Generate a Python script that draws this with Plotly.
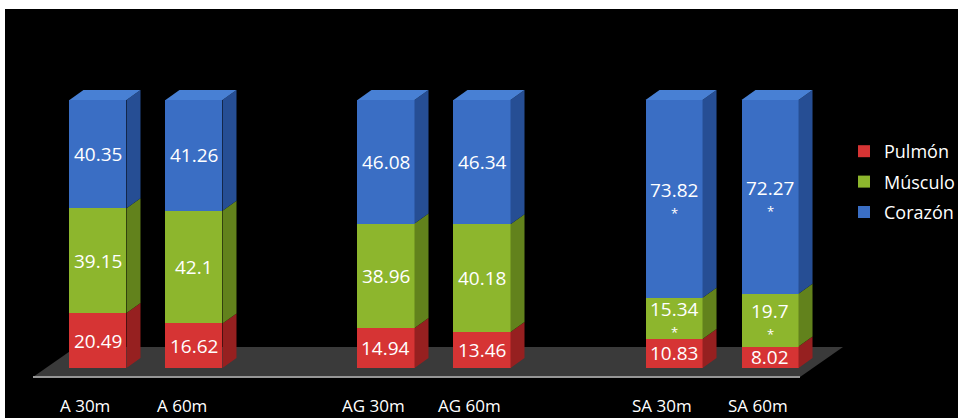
import plotly.graph_objects as go

categories = ["A 30m", "A 60m", "AG 30m", "AG 60m", "SA 30m", "SA 60m"]
pulmon = [20.49, 16.62, 14.94, 13.46, 10.83, 8.02]
musculo = [39.15, 42.1, 38.96, 40.18, 15.34, 19.7]
corazon = [40.35, 41.26, 46.08, 46.34, 73.82, 72.27]
marks = ["", "", "", "", "*", "*"]

# category slots: an empty slot between each pair of groups
xpos = [i + i // 2 for i in range(len(categories))]

W, H = 958, 418
ML, MR, MT, MB = 30, 113, 88, 38
XR = [-0.708, 7.781]
YR = [-4.48, 104.48]
plot_w = W - ML - MR
plot_h = H - MT - MB
px_x = (XR[1] - XR[0]) / plot_w
px_y = (YR[1] - YR[0]) / plot_h

bar_w = 0.594
half = bar_w / 2
dx = 14 * px_x
dy = 10 * px_y

front = {"Pulmón": "rgb(214,52,52)", "Músculo": "rgb(141,182,45)", "Corazón": "rgb(58,110,196)"}
side = {"Pulmón": "rgb(150,32,32)", "Músculo": "rgb(98,130,28)", "Corazón": "rgb(38,78,148)"}
top = {"Corazón": "rgb(72,128,212)"}

series = [("Pulmón", pulmon, ["" for _ in pulmon]),
          ("Músculo", musculo, marks),
          ("Corazón", corazon, marks)]

lab_font = dict(color="white", size=19, family="Open Sans")
star_font = dict(color="white", size=13, family="Open Sans")


def pfx(p):
    return (p - ML) / plot_w


def pfy(p):
    return (H - MB - p) / plot_h


fig = go.Figure()
annotations = []
bases = [0.0] * len(xpos)
for name, vals, mk in series:
    fig.add_trace(go.Bar(
        name=name, x=xpos, y=vals, width=bar_w,
        marker=dict(color=front[name], line=dict(width=0)),
        legendgroup=name, hoverinfo="skip",
    ))
    for i, (x, v, m) in enumerate(zip(xpos, vals, mk)):
        mid = bases[i] + v / 2
        annotations.append(dict(x=x, y=mid, xref="x", yref="y", text=f"{v:g}", showarrow=False,
                                font=lab_font, yshift=9 if m else 0, borderpad=0))
        if m:
            annotations.append(dict(x=x, y=mid, xref="x", yref="y", text=m, showarrow=False,
                                    font=star_font, yshift=-14, borderpad=0))
        bases[i] += v

# category labels under the floor
for x, c in zip(xpos, categories):
    annotations.append(dict(x=x - 0.13, y=pfy(405), xref="x", yref="paper", text=c, showarrow=False,
                            font=dict(color="white", size=17, family="Open Sans"), yanchor="middle",
                            borderpad=0))

shapes = []
# black canvas inside a thin white frame (top and left)
shapes.append(dict(type="rect", xref="paper", yref="paper", x0=pfx(5), x1=pfx(W + 5), y0=pfy(H + 5), y1=pfy(9),
                   fillcolor="black", line=dict(width=0), layer="below"))

# floor
fx0, fx1 = XR[0] + 3 * px_x, XR[0] + 770 * px_x
fy0 = YR[0] + 3 * px_y
fdx, fdy = 43 * px_x, 30 * px_y
shapes.append(dict(type="path", xref="x", yref="y", layer="below",
                   path=f"M{fx0},{fy0} L{fx1},{fy0} L{fx1+fdx},{fy0+fdy} L{fx0+fdx},{fy0+fdy} Z",
                   fillcolor="rgb(58,58,58)", line=dict(width=0)))
shapes.append(dict(type="line", xref="x", yref="y", layer="below",
                   x0=fx0, x1=fx1, y0=fy0, y1=fy0, line=dict(color="rgb(150,150,150)", width=2)))

# 3D side and top faces
for i, x in enumerate(xpos):
    base = 0.0
    for name, vals, _ in series:
        lo, hi = base, base + vals[i]
        r = x + half
        shapes.append(dict(type="path", xref="x", yref="y", layer="above",
                           path=f"M{r},{lo} L{r+dx},{lo+dy} L{r+dx},{hi+dy} L{r},{hi} Z",
                           fillcolor=side[name], line=dict(width=0)))
        base = hi
    l = x - half
    r = x + half
    shapes.append(dict(type="path", xref="x", yref="y", layer="above",
                       path=f"M{l},{base} L{r},{base} L{r+dx},{base+dy} L{l+dx},{base+dy} Z",
                       fillcolor=top["Corazón"], line=dict(width=0)))

fig.update_layout(
    width=W, height=H,
    margin=dict(l=ML, r=MR, t=MT, b=MB, pad=0, autoexpand=False),
    paper_bgcolor="white", plot_bgcolor="rgba(0,0,0,0)",
    barmode="stack", bargap=0.4,
    shapes=shapes, annotations=annotations,
    showlegend=True,
    legend=dict(x=pfx(844), y=pfy(133), xanchor="left", yanchor="top",
                traceorder="grouped", tracegroupgap=4,
                font=dict(color="white", size=18, family="Open Sans"),
                bgcolor="rgba(0,0,0,0)"),
    xaxis=dict(range=XR, showticklabels=False, showgrid=False, zeroline=False, showline=False,
               automargin=False),
    yaxis=dict(range=YR, visible=False, showgrid=False, zeroline=False, automargin=False),
)

fig.write_html("out.html")
